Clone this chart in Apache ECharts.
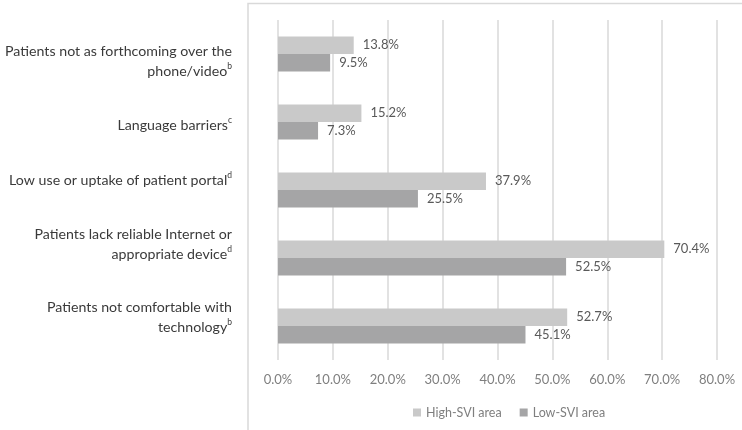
<!DOCTYPE html>
<html>
<head>
<meta charset="utf-8">
<script src="https://cdn.jsdelivr.net/npm/echarts@6/dist/echarts.min.js"></script>
<style>
  html, body { margin: 0; padding: 0; background: #ffffff; }
  #chart { width: 742px; height: 430px; }
</style>
</head>
<body>
<div id="chart"></div>
<script>
// Barrier categories, top to bottom; superscript marks kept separately
const categories = [
  'Patients not as forthcoming over the\nphone/video',
  'Language barriers',
  'Low use or uptake of patient portal',
  'Patients lack reliable Internet or\nappropriate device',
  'Patients not comfortable with\ntechnology'
];
const footnotes = ['b', 'c', 'd', 'd', 'b'];

// Percent of respondents, by area
const highSVI = [13.8, 15.2, 37.9, 70.4, 52.7];
const lowSVI = [9.5, 7.3, 25.5, 52.5, 45.1];

const seriesNames = ['High-SVI area', 'Low-SVI area'];

// Vertical nudge (px, positive = down) for each category label
const labelNudge = [7, 3, -10, -14, -9];

const FONT = 'Lato, "Open Sans", sans-serif';

const chart = echarts.init(document.getElementById('chart'));

const yAxisData = categories.map((c, i) => {
  const d = labelNudge[i];
  return {
    value: c + '{sup|' + footnotes[i] + '}',
    textStyle: { padding: d >= 0 ? [2 * d, 0, 0, 0] : [0, 0, -2 * d, 0] }
  };
});

const barLabel = {
  show: true,
  position: 'right',
  distance: 9,
  color: '#595959',
  fontFamily: FONT,
  fontSize: 13,
  formatter: p => p.value.toFixed(1) + '%'
};

chart.setOption({
  animation: false,
  backgroundColor: '#ffffff',
  textStyle: { fontFamily: FONT },
  graphic: [
    {
      type: 'polyline',
      silent: true,
      shape: { points: [[248, 430], [248, 3.5], [742, 3.5]] },
      style: { stroke: '#d9d9d9', lineWidth: 1.5, fill: null }
    }
  ],
  grid: { left: 278, right: 25, top: 20, bottom: 70, containLabel: false },
  legend: {
    data: seriesNames,
    left: 408,
    top: 401,
    itemWidth: 8,
    itemHeight: 8,
    itemGap: 18,
    icon: 'rect',
    textStyle: { color: '#7f7f7f', fontFamily: FONT, fontSize: 12.5 }
  },
  xAxis: {
    type: 'value',
    min: 0,
    max: 80,
    interval: 10,
    axisLine: { show: false },
    axisTick: { show: false },
    axisLabel: {
      color: '#7f7f7f',
      fontFamily: FONT,
      fontSize: 13,
      margin: 13,
      formatter: v => v.toFixed(1) + '%'
    },
    splitLine: { show: true, lineStyle: { color: '#d9d9d9', width: 1.5 } }
  },
  yAxis: {
    type: 'category',
    inverse: true,
    data: yAxisData,
    axisLine: { show: false },
    axisTick: { show: false },
    axisLabel: {
      margin: 46,
      align: 'right',
      color: '#3a3a3a',
      fontFamily: FONT,
      fontSize: 14.2,
      lineHeight: 20,
      rich: {
        sup: { fontSize: 8.5, lineHeight: 10, verticalAlign: 'middle', color: '#3a3a3a', fontFamily: FONT, padding: [0, 0, 9, 0] }
      }
    }
  },
  series: [
    {
      name: seriesNames[0],
      type: 'bar',
      data: highSVI,
      barWidth: 17.5,
      barGap: '0%',
      itemStyle: { color: '#c9c9c9' },
      label: barLabel
    },
    {
      name: seriesNames[1],
      type: 'bar',
      data: lowSVI,
      barWidth: 17.5,
      barGap: '0%',
      itemStyle: { color: '#a5a5a6' },
      label: barLabel
    }
  ]
});
</script>
</body>
</html>
